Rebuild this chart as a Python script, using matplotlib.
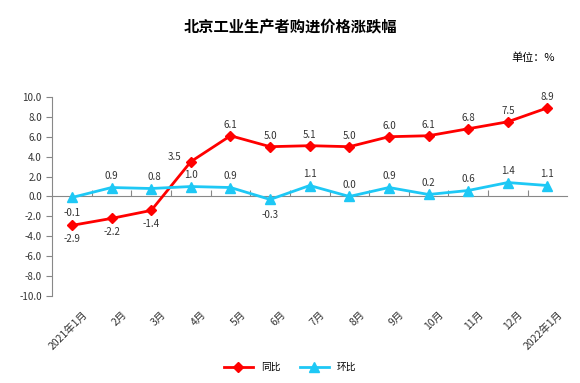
import numpy as np
import matplotlib.pyplot as plt

plt.rcParams['font.family'] = ['Noto Sans CJK SC', 'DejaVu Sans']

months = ['2021年1月', '2月', '3月', '4月', '5月', '6月', '7月', '8月',
          '9月', '10月', '11月', '12月', '2022年1月']
yoy = [-2.9, -2.2, -1.4, 3.5, 6.1, 5.0, 5.1, 5.0, 6.0, 6.1, 6.8, 7.5, 8.9]
mom = [-0.1, 0.9, 0.8, 1.0, 0.9, -0.3, 1.1, 0.0, 0.9, 0.2, 0.6, 1.4, 1.1]

# label offsets (dx, dy) in points
yoy_off = [(0, -10), (0, -10), (0, -10), (-12, 3)] + [(0, 8)] * 9
mom_off = [(0, -11), (0, 8), (2, 8), (0, 8), (0, 8), (0, -11)] + [(0, 8)] * 7

fig = plt.figure(figsize=(5.8, 3.83), dpi=100)
ax = fig.add_axes([0.09, 0.227, 0.888, 0.52])
x = np.arange(len(months))

ax.plot(x, yoy, color='#ff0000', lw=2, marker='D', ms=5, label='同比', zorder=3)
ax.plot(x, mom, color='#1ec8f5', lw=2, marker='^', ms=7, label='环比', zorder=3)

for i in range(len(x)):
    ax.annotate(f'{yoy[i]:.1f}', (x[i], yoy[i]), xytext=yoy_off[i], textcoords='offset points',
                ha='center', va='center', fontsize=7, color='#333333')
    ax.annotate(f'{mom[i]:.1f}', (x[i], mom[i]), xytext=mom_off[i], textcoords='offset points',
                ha='center', va='center', fontsize=7, color='#333333')

ax.set_xlim(-0.5, len(x) - 0.5)
ax.set_ylim(-10, 10)
ax.set_yticks(np.arange(-10, 10.1, 2))
ax.set_yticklabels([f'{v:.1f}' for v in np.arange(-10, 10.1, 2)], fontsize=7, color='#333333')

for s in ['top', 'right']:
    ax.spines[s].set_visible(False)
ax.spines['bottom'].set_position(('data', 0))
ax.spines['bottom'].set_color('#888888')
ax.spines['left'].set_color('#888888')
ax.tick_params(axis='y', length=4, color='#888888', direction='out')

# category boundary ticks on zero line, labels at the bottom
ax.set_xticks(np.arange(0.5, len(x) - 1, 1))
ax.set_xticklabels([])
ax.tick_params(axis='x', length=4, direction='in', color='#888888')
for i, m in enumerate(months):
    ax.text(x[i] + 0.25, -11.3, m, rotation=45, ha='right', va='top', fontsize=7.5,
            rotation_mode='anchor', color='#333333')

fig.text(0.5, 0.93, '北京工业生产者购进价格涨跌幅', ha='center', va='center',
         fontsize=11, fontweight='bold')
fig.text(0.957, 0.85, '单位：%', ha='right', va='center', fontsize=8)

fig.legend(loc='center', bbox_to_anchor=(0.5, 0.042), ncol=2, frameon=False,
           fontsize=7, handlelength=3)

fig.savefig('out.png', dpi=100)
